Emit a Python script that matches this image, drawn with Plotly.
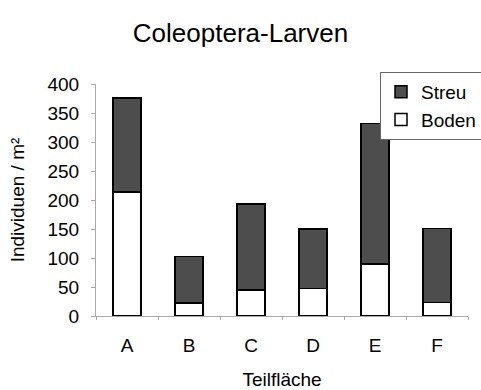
import plotly.graph_objects as go

# Coleoptera larvae per square metre, per sub-area, split by layer
teilflaechen = ["A", "B", "C", "D", "E", "F"]
boden = [214, 22, 45, 47, 90, 23]
streu = [162, 81, 148, 103, 242, 128]

font_family = "Liberation Sans, Arial, sans-serif"

fig = go.Figure()
fig.add_trace(go.Bar(
    x=teilflaechen, y=boden, name="Boden",
    marker=dict(color="white", line=dict(color="black", width=1.5)),
    width=0.45,
))
fig.add_trace(go.Bar(
    x=teilflaechen, y=streu, name="Streu",
    marker=dict(color="#4d4d4d", line=dict(color="black", width=1.5)),
    width=0.45,
))

fig.update_layout(
    barmode="stack",
    width=481, height=390,
    margin=dict(l=96, r=13, t=84, b=74, autoexpand=False),
    paper_bgcolor="white", plot_bgcolor="white",
    font=dict(family=font_family, color="black", size=19),
    title=dict(text="Coleoptera-Larven", x=0.5, xanchor="center",
               y=1 - 33 / 390, yanchor="middle", font=dict(size=26)),
    legend=dict(
        x=(380 - 96) / 372, y=(316 - 72) / 232, xanchor="left", yanchor="top",
        traceorder="reversed",
        bordercolor="#666666", borderwidth=1,
        font=dict(size=19), bgcolor="white",
        itemwidth=30, tracegroupgap=0,
    ),
)
fig.update_xaxes(
    showline=True, linecolor="#aaaaaa", linewidth=1,
    ticks="outside", tickson="boundaries", ticklen=3, tickcolor="#aaaaaa",
    tickfont=dict(size=19), ticklabelstandoff=12,
    title=dict(text="Teilfläche", font=dict(size=19), standoff=20),
)
fig.update_yaxes(
    range=[0, 400], dtick=50,
    showline=True, linecolor="#aaaaaa", linewidth=1,
    ticks="outside", ticklen=4, tickcolor="#aaaaaa",
    showgrid=False, zeroline=False,
    tickfont=dict(size=19), ticklabelstandoff=8,
    title=dict(text="Individuen / m²", font=dict(size=19), standoff=17),
)

fig.write_html("out.html")
